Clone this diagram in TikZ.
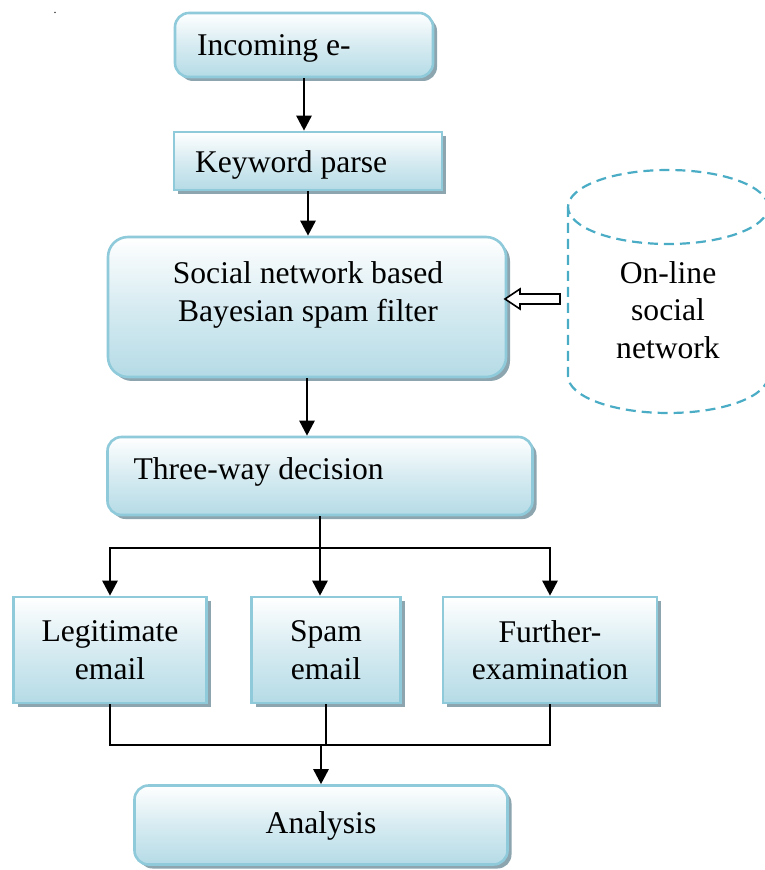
\documentclass[tikz,border=0pt]{standalone}
\usepackage{fontspec}
\setmainfont{Liberation Serif}
\definecolor{boxblue}{HTML}{B5DBE6}
\definecolor{boxedge}{HTML}{8FCADB}
\definecolor{shadowgray}{HTML}{8CA5AF}
\definecolor{dashblue}{HTML}{4BACC6}
\usetikzlibrary{arrows.meta, positioning, shadows, calc}

\begin{document}
\begin{tikzpicture}[
    x=0.5pt, y=-0.5pt,
    box/.style={draw=boxedge, line width=1.3pt, top color=white,
                bottom color=boxblue, middle color=boxblue!55,
                inner sep=0pt,
                drop shadow={shadow xshift=2pt, shadow yshift=-2pt,
                             fill=shadowgray, opacity=1}},
    round box/.style={box, rounded corners=7pt},
    boxtext/.style={inner sep=0pt, align=center,
                    font=\fontsize{15.8}{18.8}\selectfont},
    arrow/.style={-{Triangle[length=7.5pt, width=7.5pt]}, line width=1.3pt},
    line/.style={line width=1.3pt},
    dbase/.style={draw=dashblue, line width=1.1pt,
                  dash pattern=on 5pt off 3pt},
    hollow arrow/.style={draw, line width=0.8pt, fill=white}
  ]
    \useasboundingbox (0,0) rectangle (764,870);
    \node[inner sep=0pt, font=\fontsize{6}{6}\selectfont, anchor=base]
      (dot) at (55,14) {.};

    % Processing chain
    \node[round box, minimum width=129pt, minimum height=32pt]
      (incoming) at (304,45) {};
    \node[boxtext, right=11.5pt of incoming.west, yshift=-1.5pt]
      {Incoming e-};

    \node[box, minimum width=134pt, minimum height=29pt]
      (keyword) at (308,161) {};
    \node[boxtext, right=11pt of keyword.west, yshift=-2pt] {Keyword parse};

    \node[round box, rounded corners=10pt, minimum width=199pt,
          minimum height=70pt] (filter) at (307,307) {};
    \node[boxtext] at (308,295) {Social network based\\Bayesian spam filter};

    \node[round box, minimum width=212.5pt, minimum height=39pt]
      (decision) at (320,476) {};
    \node[boxtext, right=13.5pt of decision.west, yshift=2pt]
      {Three-way decision};

    % Social network store
    \draw[dbase] (668,207) ellipse [x radius=50pt, y radius=18.5pt];
    \draw[dbase] (568,207) -- (568,376)
      arc[start angle=180, end angle=360, x radius=50pt, y radius=18.5pt]
      -- (768,207);
    \node[boxtext] (socialnet) at (668,310) {On-line\\social\\network};
    \draw[hollow arrow] (505,299) -- (520,289) -- (520,294) -- (560,294)
      -- (560,304) -- (520,304) -- (520,309) -- cycle;

    % Decision outcomes
    \node[box, minimum width=96.5pt, minimum height=53pt]
      (legit) at (110,650) {};
    \node[boxtext] at (110,650) {Legitimate\\email};
    \node[box, minimum width=74.5pt, minimum height=53pt]
      (spam) at (326,650) {};
    \node[boxtext] at (326,650) {Spam\\email};
    \node[box, minimum width=107pt, minimum height=53pt]
      (further) at (550,650) {};
    \node[boxtext] at (550,650) {Further-\\examination};

    \node[round box, minimum width=186.5pt, minimum height=39.5pt]
      (analysis) at (321,825) {};
    \node[boxtext] at (321,826) {Analysis};

    % Connections
    \draw[arrow] (incoming.south) -- (incoming.south |- keyword.north);
    \draw[arrow] (keyword.south) -- (keyword.south |- filter.north);
    \draw[arrow] (filter.south) -- (filter.south |- decision.north);

    \coordinate (split) at (320,548);
    \draw[line] (decision.south) -- (split);
    \draw[arrow] (split) -| (legit.north);
    \draw[arrow] (split) -- (split |- spam.north);
    \draw[arrow] (split) -| (further.north);

    \coordinate (merge) at (321,745);
    \draw[line] (legit.south) |- (merge) -| (further.south);
    \draw[line] (spam.south) -- (spam.south |- merge);
    \draw[arrow] (merge) -- (analysis.north);
  \end{tikzpicture}
\end{document}
